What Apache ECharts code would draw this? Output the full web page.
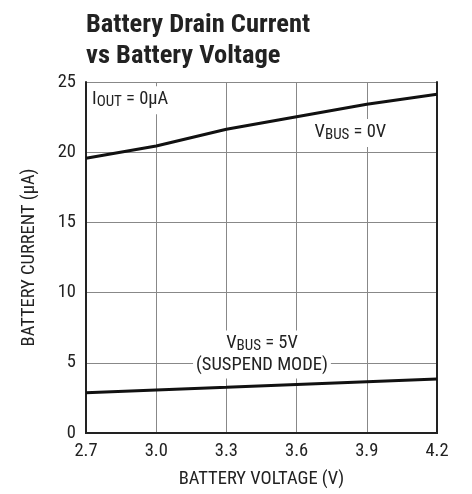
<!DOCTYPE html>
<html><head><meta charset="utf-8">
<script src="https://cdn.jsdelivr.net/npm/echarts@6/dist/echarts.min.js"></script>
<style>html,body{margin:0;padding:0;background:#fff}#c{width:472px;height:494px}</style>
</head><body><div id="c"></div>
<script>
const voltages = [2.7, 3.0, 3.3, 3.6, 3.9, 4.2];
const vbus0 = [19.57, 20.44, 21.63, 22.53, 23.41, 24.12];
const vbus5 = [2.87, 3.07, 3.25, 3.45, 3.65, 3.85];
const yTicks = [0, 5, 10, 15, 20, 25];

const FONT = "'Liberation Sans Narrow','Arial Narrow','Roboto Condensed',sans-serif";
const TXT = '#222';
const rich = {
  a: {fontFamily: FONT, fontSize: 18.5, color: TXT, lineHeight: 22},
  b: {fontFamily: FONT, fontSize: 15, color: TXT, lineHeight: 22, padding: [6, 0, 0, 0]}
};
const chart = echarts.init(document.getElementById('c'), null, {renderer: 'canvas'});
const xAx = {type: 'value', min: voltages[0], max: voltages[voltages.length - 1], interval: 0.3};
const yAx = {type: 'value', min: yTicks[0], max: yTicks[yTicks.length - 1], interval: 5};
chart.setOption({
  animation: false,
  title: {
    text: 'Battery Drain Current\nvs Battery Voltage',
    left: 81, top: 5,
    textStyle: {fontFamily: FONT, fontWeight: 'bold', fontSize: 26.5, color: TXT, lineHeight: 31}
  },
  grid: {left: 86, right: 35, top: 82, bottom: 61},
  xAxis: [
    Object.assign({}, xAx, {
      position: 'bottom',
      name: 'BATTERY VOLTAGE (V)', nameLocation: 'middle', nameGap: 37,
      nameTextStyle: {fontFamily: FONT, fontSize: 18.5, color: TXT},
      axisLine: {show: true, lineStyle: {color: '#222', width: 2}},
      axisTick: {show: false},
      axisLabel: {fontFamily: FONT, fontSize: 18.5, color: TXT, margin: 9,
        formatter: v => v.toFixed(1)},
      splitLine: {show: true, lineStyle: {color: '#888', width: 1}}
    }),
    Object.assign({}, xAx, {
      position: 'top',
      axisLine: {show: true, lineStyle: {color: '#222', width: 2}},
      axisTick: {show: false}, axisLabel: {show: false}, splitLine: {show: false}
    })
  ],
  yAxis: [
    Object.assign({}, yAx, {
      position: 'left',
      name: 'BATTERY CURRENT (µA)', nameLocation: 'middle', nameGap: 47,
      nameTextStyle: {fontFamily: FONT, fontSize: 18.5, color: TXT},
      axisLine: {show: true, lineStyle: {color: '#222', width: 2}},
      axisTick: {show: false},
      axisLabel: {fontFamily: FONT, fontSize: 18.5, color: TXT, margin: 10},
      splitLine: {show: true, lineStyle: {color: '#888', width: 1}}
    }),
    Object.assign({}, yAx, {
      position: 'right',
      axisLine: {show: true, lineStyle: {color: '#222', width: 2}},
      axisTick: {show: false}, axisLabel: {show: false}, splitLine: {show: false}
    })
  ],
  series: [
    {
      type: 'line', data: voltages.map((v, i) => [v, vbus0[i]]),
      symbol: 'none', lineStyle: {color: '#111', width: 3}, z: 5,
      markPoint: {
        symbol: 'rect', symbolSize: 0, silent: true,
        data: [
          {coord: [2.7, 23.7], label: {show: true, position: 'right', distance: 3,
            formatter: '{a|I}{b|OUT}{a| = 0µA}', backgroundColor: '#fff', padding: [2, 3, 4, 3], rich}},
          {coord: [3.83, 21.37], label: {show: true, position: 'inside',
            formatter: '{a|V}{b|BUS}{a| = 0V}', backgroundColor: '#fff', padding: [2, 3, 4, 3], rich}}
        ]
      }
    },
    {
      type: 'line', data: voltages.map((v, i) => [v, vbus5[i]]),
      symbol: 'none', lineStyle: {color: '#111', width: 3}, z: 5,
      markPoint: {
        symbol: 'rect', symbolSize: 0, silent: true,
        data: [
          {coord: [3.452, 5.6], label: {show: true, position: 'inside', align: 'center',
            formatter: '{a|V}{b|BUS}{a| = 5V}\n{a|(SUSPEND MODE)}', backgroundColor: '#fff', padding: [2, 3, 2, 3], rich}}
        ]
      }
    }
  ]
});
</script></body></html>
